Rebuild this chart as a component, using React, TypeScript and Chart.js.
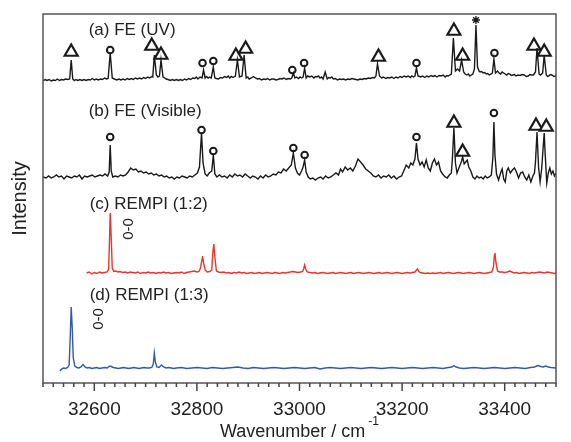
import React, { useEffect, useRef } from 'react';
import { Chart, registerables } from 'chart.js';

Chart.register(...registerables);

// ---------- axis ----------
const X_MIN = 32500;
const X_MAX = 33500;
const X_STEP = 20;
const xTickLabels = [32600, 32800, 33000, 33200, 33400];
const xMajorStep = 200;
const Y_MIN = 0;
const Y_MAX = 369;

// ---------- spectra: [wavenumber, intensity above own baseline] ----------
const traceA: [number, number][] = [
  [32500, -2], [32504, -0.5], [32508, -1.5], [32512, -0.5], [32516, -2], [32520, -1], [32524, -1.5], [32528, 0],
  [32532, -1.5], [32536, -0.5], [32540, -1], [32544, 0], [32548, -0.5], [32552, 0],
  [32555, 19], [32558, 0], [32561, -1.5], [32564, -0.5], [32568, -1.5], [32572, -0.5], [32576, -1.5], [32580, -0.5],
  [32584, -1.5], [32588, -0.5], [32592, -1], [32596, 0.5], [32600, -1], [32604, 0], [32608, -1],
  [32612, 0], [32616, -0.5], [32620, 1], [32624, 0], [32627, 0.5], [32631, 26], [32635, 1], [32639, 0], [32644, -1],
  [32648, 0], [32652, -1], [32656, 0], [32660, -1], [32664, 0.5],
  [32668, -0.5], [32672, 0.5], [32676, -0.5], [32680, 1], [32684, 0], [32688, 1], [32692, 0], [32696, 1.5],
  [32700, 0.5], [32704, 2], [32708, 1], [32712, 2.5], [32714, 2], [32717, 24],
  [32721, 4], [32724, 2], [32727, 3], [32730, 19], [32734, 2], [32737, 1], [32740, 0], [32744, -0.5], [32748, -1.5],
  [32752, -0.5], [32756, -1.5], [32760, -0.5], [32764, -1.5],
  [32768, -0.5], [32772, -1.5], [32776, 0], [32780, -1], [32784, 0.5], [32788, -0.5], [32792, 1], [32796, 0.5],
  [32799, 2], [32802, 0], [32806, 2], [32810, 1], [32813, 9],
  [32816, 1], [32819, 2.5], [32822, 1], [32825, 2], [32828, 1], [32832, 12], [32835, 1], [32838, 0.5], [32842, 0],
  [32846, 1.5], [32850, 1], [32854, 2.5], [32858, 1.5],
  [32861, 3], [32864, 1], [32867, 2.5], [32870, 1.5], [32875, 3], [32879, 19], [32883, 2], [32888, 3], [32892, 24], [32896, 1],
  [32899, 2], [32902, 0], [32906, 1], [32910, 2.5], [32914, 1], [32918, 0], [32922, 0.5], [32926, -1], [32930, 0],
  [32934, -0.5], [32938, 0.5], [32942, -1], [32946, 0], [32950, 0], [32954, -1], [32958, -0.5],
  [32962, 0.5], [32966, 0], [32970, 1], [32974, -0.5], [32978, 0.5], [32982, 0], [32985, 1], [32988, 6], [32991, 1],
  [32994, 2], [32998, 0.5], [33001, 2], [33004, 1],
  [33007, 2], [33010, 11], [33013, 1], [33016, 3], [33020, 2], [33024, 3], [33028, 1], [33031, 2.5], [33034, 2],
  [33037, 3], [33040, 1], [33043, 2], [33046, 0],
  [33050, 7], [33054, 0], [33057, 1.5], [33060, 1], [33063, 2], [33066, 0], [33070, 0.5], [33074, -1], [33078, 0],
  [33082, -0.5], [33086, 0], [33090, -1], [33094, 0], [33098, -0.5],
  [33102, 0.5], [33106, 0], [33110, -0.5], [33114, -1], [33118, 0], [33122, -0.5], [33126, 0.5], [33130, 0],
  [33134, 1], [33138, 0.5], [33142, 1.5], [33146, 1], [33149, 3], [33152, 15],
  [33156, 3], [33160, 1], [33164, 2], [33168, 0.5], [33172, 1.5], [33176, 1], [33180, 2], [33184, 0.5], [33188, 2],
  [33192, 1], [33196, 2.5], [33200, 1.5], [33204, 3], [33208, 2],
  [33212, 3], [33216, 1.5], [33219, 3], [33222, 2], [33225, 3], [33228, 11], [33231, 3], [33234, 2.5], [33236, 2],
  [33240, 3], [33244, 1.5], [33248, 3], [33252, 2],
  [33256, 3.5], [33260, 2.5], [33264, 3.5], [33268, 2], [33272, 3.5], [33276, 3], [33280, 4], [33284, 2],
  [33287, 3.5], [33290, 3], [33296, 5], [33300, 41], [33304, 8],
  [33308, 10], [33312, 8], [33316, 19], [33320, 7], [33323, 5], [33326, 4], [33329, 5], [33332, 3], [33335, 4],
  [33338, 5], [33341, 10],
  [33344, 54], [33347, 12], [33350, 8], [33352, 7], [33355, 7.5], [33358, 6], [33361, 6.5], [33364, 5], [33367, 5.5],
  [33370, 4], [33374, 5], [33376, 6],
  [33379, 20], [33382, 6], [33386, 8], [33389, 6], [33392, 5], [33395, 7], [33398, 6], [33401, 5], [33404, 4],
  [33407, 5.5], [33410, 5], [33413, 3.5], [33416, 4],
  [33419, 4.5], [33422, 3], [33426, 4], [33430, 3.5], [33434, 4.5], [33438, 4], [33442, 2.5], [33446, 3], [33449, 4.5],
  [33452, 4], [33456, 4], [33460, 7], [33463, 31],
  [33467, 5], [33470, 4], [33474, 6], [33477, 24], [33481, 4], [33484, 2.5], [33486, 3], [33489, 4.5], [33492, 4],
  [33496, 2.5], [33500, 3],
];

const traceB: [number, number][] = [
  [32500, 0], [32506, -1], [32511, 1], [32516, -1], [32521, 0], [32526, 2], [32531, 0], [32536, 1],
  [32541, -2], [32546, 1], [32551, 0], [32556, -1], [32561, 1], [32566, 0], [32571, 2], [32576, -2],
  [32581, 1], [32586, 0], [32591, 1], [32596, 2], [32601, 0], [32606, 1], [32611, 2], [32616, 1],
  [32621, 3], [32626, 1], [32629, 5], [32631, 32], [32633, 6], [32636, 0], [32641, 1], [32646, 0],
  [32651, 2], [32656, 1], [32661, 2], [32666, 5], [32671, 9], [32676, 7], [32681, 8], [32686, 5],
  [32691, 6], [32696, 4], [32701, 5], [32706, 3], [32711, 4], [32716, 2], [32721, 3], [32726, 1],
  [32731, 2], [32736, 0], [32741, 1], [32746, -1], [32751, 0], [32756, -2], [32761, 0], [32766, -1],
  [32771, 1], [32776, 0], [32781, -1], [32786, 1], [32791, 0], [32796, 2], [32801, 4], [32805, 10],
  [32809, 44], [32812, 14], [32816, 3], [32820, 1], [32824, 4], [32829, 6], [32832, 22], [32835, 3],
  [32839, 0], [32844, 2], [32849, 0], [32854, 1], [32859, -1], [32864, 2], [32869, 0], [32874, 3],
  [32879, 1], [32884, 2], [32889, 0], [32894, 3], [32899, 1], [32904, -1], [32909, 1], [32914, 0],
  [32919, -2], [32924, 1], [32929, -1], [32934, 2], [32939, 0], [32944, 1], [32949, 3], [32954, 2],
  [32959, 5], [32964, 4], [32969, 8], [32974, 6], [32979, 9], [32984, 12], [32988, 24], [32992, 9],
  [32996, 4], [33000, 2], [33004, 6], [33007, 10], [33010, 17], [33013, 5], [33017, 0], [33021, -2],
  [33026, -1], [33031, -3], [33036, -1], [33041, 0], [33046, -2], [33051, 1], [33056, -1], [33061, 0],
  [33066, 2], [33071, 4], [33076, 2], [33080, 8], [33084, 5], [33089, 10], [33094, 7], [33099, 9],
  [33104, 6], [33109, 11], [33114, 18], [33119, 15], [33124, 12], [33129, 8], [33134, 6], [33139, 4],
  [33144, 1], [33149, 0], [33154, 2], [33159, -1], [33164, 1], [33169, 0], [33174, 2], [33179, -1],
  [33184, 1], [33189, -2], [33194, 0], [33199, 1], [33204, 7], [33208, 12], [33213, 9], [33217, 14],
  [33221, 12], [33225, 18], [33228, 34], [33231, 18], [33235, 12], [33239, 15], [33243, 10], [33247, 17],
  [33251, 9], [33255, 6], [33259, 14], [33263, 18], [33267, 12], [33271, 15], [33275, 6], [33279, 3],
  [33284, 0], [33288, -1], [33292, 2], [33296, 4], [33298, 18], [33301, 49], [33304, 14], [33307, 4],
  [33310, 8], [33313, 12], [33316, 16], [33318, 20], [33321, 13], [33324, 15], [33327, 17], [33330, 10],
  [33334, 6], [33338, 0], [33342, -2], [33346, 1], [33350, -1], [33354, 0], [33358, -2], [33362, 1],
  [33366, -1], [33370, 0], [33374, 2], [33377, 20], [33379, 55], [33381, 22], [33384, 3], [33388, -3],
  [33392, 4], [33395, 8], [33398, -2], [33401, -5], [33404, 6], [33407, 9], [33411, 4], [33415, 7],
  [33419, 9], [33423, 5], [33427, -1], [33431, 4], [33435, 5], [33439, 0], [33443, -3], [33447, 2],
  [33451, -5], [33455, 1], [33458, 4], [33460, 15], [33463, 45], [33466, 10], [33469, -5], [33472, 8],
  [33475, 30], [33477, 44], [33479, 22], [33482, -6], [33485, 4], [33488, 9], [33491, 3], [33494, 6],
  [33497, 1], [33500, 4],
];

const traceC: [number, number][] = [
  [32585, 0], [32590, 1], [32595, -1], [32600, 0.5], [32605, -0.5], [32610, 1], [32615, 0], [32620, 0.5],
  [32625, 1], [32628, 4], [32630, 40], [32631, 60], [32633, 35], [32635, 5], [32638, 1.5], [32642, 2],
  [32646, 1], [32650, 1.5], [32655, 0.5], [32660, 1], [32665, 0], [32670, 1], [32675, 0.5], [32680, 0],
  [32685, 1], [32690, -0.5], [32695, 0.5], [32700, 0], [32705, 1], [32710, 0], [32715, 0.5], [32720, -0.5],
  [32725, 0.5], [32730, 0], [32735, 1], [32740, 0], [32745, 0.5], [32750, -0.5], [32755, 0], [32760, 0.5],
  [32765, 0], [32770, 1], [32775, -0.5], [32780, 0.5], [32785, 1], [32790, 1.5], [32795, 2], [32800, 1],
  [32804, 1.5], [32807, 5], [32810, 14], [32811, 17], [32813, 10], [32816, 3], [32820, 1], [32825, 1.5],
  [32829, 3], [32831, 20], [32833, 29], [32835, 16], [32838, 2], [32842, 1], [32847, 0.5], [32852, 1],
  [32857, 0], [32862, 0.5], [32867, -0.5], [32872, 0.5], [32877, 0], [32882, 1], [32887, 0], [32892, 0.5],
  [32897, -0.5], [32902, 0], [32907, 0.5], [32912, -0.5], [32917, 0], [32922, 0.5], [32927, -0.5], [32932, 0],
  [32937, 0.5], [32942, 0], [32947, -0.5], [32952, 0.5], [32957, 0], [32962, -0.5], [32967, 0.5], [32972, 0],
  [32977, 0.5], [32982, 1], [32987, 1.5], [32992, 1], [32997, 0.5], [33002, 1], [33006, 1.5], [33008, 4],
  [33010, 8], [33012, 4], [33015, 1], [33020, 0.5], [33025, 0], [33030, 0.5], [33035, -0.5], [33040, 0],
  [33045, 0.5], [33050, 0], [33055, -0.5], [33060, 0], [33065, 0.5], [33070, -0.5], [33075, 0], [33080, 0.5],
  [33085, 0], [33090, -0.5], [33095, 0], [33100, 0.5], [33105, -0.5], [33110, 0], [33115, 0.5], [33120, 0],
  [33125, -0.5], [33130, 0], [33135, 0.5], [33140, 0], [33145, -0.5], [33150, 0], [33155, 0.5], [33160, -0.5],
  [33165, 0], [33170, 0.5], [33175, 0], [33180, -0.5], [33185, 0], [33190, 0.5], [33195, 0], [33200, -0.5],
  [33205, 0], [33210, 0.5], [33215, 0], [33220, 0.5], [33225, 1], [33228, 3], [33230, 4], [33232, 2],
  [33235, 0.5], [33240, 0], [33245, -0.5], [33250, 0], [33255, -0.5], [33260, 0], [33265, -0.5], [33270, 0],
  [33275, 0.5], [33280, -0.5], [33285, 0], [33290, 0.5], [33295, 0], [33300, -0.5], [33305, 0], [33310, 0.5],
  [33315, 0], [33320, -0.5], [33325, 0], [33330, 0.5], [33335, 0], [33340, -0.5], [33345, 0], [33350, 0.5],
  [33355, 0], [33360, -0.5], [33365, 0], [33370, 0.5], [33375, 1], [33378, 6], [33380, 18], [33381, 20],
  [33383, 10], [33386, 2], [33390, 1], [33395, 1], [33400, 0.5], [33405, 1], [33410, 2], [33414, 1],
  [33418, 0], [33423, 0.5], [33428, -0.5], [33433, 0], [33438, 0.5], [33443, 0], [33448, -0.5], [33453, 0.5],
  [33458, 0], [33463, 0.5], [33468, 1], [33473, 0.5], [33478, 0], [33483, 1], [33488, 0.5], [33493, 0],
  [33497, -0.5], [33500, 0.5],
];

const traceD: [number, number][] = [
  [32533, -3], [32536, -1], [32540, 0], [32544, -0.5], [32548, 0.5], [32551, 3], [32553, 30], [32555, 61],
  [32557, 40], [32559, 10], [32562, 2], [32566, 0.5], [32570, 0], [32574, 1], [32578, 3.5], [32582, 1],
  [32586, 0], [32590, 0.5], [32595, -0.5], [32600, 0], [32605, 0.5], [32610, -0.5], [32615, 0], [32620, 0.5],
  [32625, 0], [32630, 2], [32633, 1.5], [32637, 0.5], [32642, 0], [32647, -0.5], [32652, 0], [32657, 0.5],
  [32662, 0], [32667, -0.5], [32672, 0], [32677, 0.5], [32682, 0], [32687, -0.5], [32692, 0], [32697, 0.5],
  [32702, 0], [32707, 0], [32712, 0.5], [32715, 4], [32717, 15], [32719, 6], [32722, 1], [32726, 0.5],
  [32731, 3], [32735, 1], [32740, 0], [32745, 0.5], [32750, 0], [32755, -0.5], [32760, 0], [32770, 0.5],
  [32780, -0.5], [32790, 0], [32800, 0.5], [32810, 0], [32820, -0.5], [32830, 0.5], [32840, 0], [32850, -0.5],
  [32860, 0], [32870, 0.5], [32880, 1], [32890, 0], [32900, -0.5], [32910, 0.5], [32920, 0], [32930, -0.5],
  [32940, 0], [32950, 0.5], [32960, 0], [32970, -0.5], [32980, 0], [32990, 0.5], [33000, 0], [33010, -0.5],
  [33020, 0], [33030, 0.5], [33040, -1], [33050, 0], [33060, 0.5], [33070, 0], [33080, -0.5], [33090, 0],
  [33100, 0.5], [33110, 0], [33120, -0.5], [33130, 0], [33140, 0.5], [33150, 0], [33160, -0.5], [33170, 0],
  [33180, 0.5], [33190, 0], [33200, -0.5], [33210, 0], [33220, 0.5], [33230, 0], [33240, -0.5], [33250, 0],
  [33260, 0.5], [33270, 0], [33280, -0.5], [33290, 0.5], [33297, 1], [33301, 2.5], [33305, 1], [33312, 0],
  [33320, -0.5], [33330, 0], [33340, 0.5], [33350, 0], [33360, -0.5], [33370, 0], [33380, 0.5], [33390, 0],
  [33400, -0.5], [33410, 0], [33420, 0.5], [33430, 0], [33440, -0.5], [33450, 0.5], [33458, 1], [33465, 2.5],
  [33470, 1.5], [33475, 1], [33480, 2], [33485, 1], [33490, 0.5], [33500, 0],
];

// ---------- assignment marks: [wavenumber, height above own baseline] ----------
const triA: [number, number][] = [
  [32555, 27], [32712, 33], [32730, 24], [32876, 23], [32895, 30], [33154, 22],
  [33301, 48], [33318, 23], [33457, 33], [33477, 27],
];
const circA: [number, number][] = [
  [32631, 29], [32811, 16], [32832, 18], [32986, 9], [33009, 16], [33228, 16], [33380, 26],
];
const starA: [number, number][] = [[33344, 59]];
const triB: [number, number][] = [[33301, 54], [33318, 25], [33461, 51], [33481, 50]];
const circB: [number, number][] = [
  [32631, 40], [32809, 47], [32832, 26], [32988, 29], [33010, 22], [33228, 40], [33379, 64],
];

// ---------- texts ----------
const traceNames = ['(a) FE (UV)', '(b) FE (Visible)', '(c) REMPI (1:2)', '(d) REMPI (1:3)'];
const originLabel = '0-0';
const xTitle = 'Wavenumber / cm';
const xTitleSup = '-1';
const yTitle = 'Intensity';

// ---------- layout (vertical stacking offsets, label anchors) ----------
const OFFSET_A = 304;
const OFFSET_B = 206;
const OFFSET_C = 110;
const OFFSET_D = 15;
const nameAnchors: [number, number][] = [[32589, 352.5], [32589, 271.5], [32591, 179], [32591, 88]];
const originAnchors: [number, number][] = [[32668, 154], [32608, 64]];

const FONT = '"Liberation Sans", Arial, Helvetica, sans-serif';
const TEXT = '#222222';
const BLACK = '#1a1a1a';
const RED = '#e8352f';
const BLUE = '#3559a8';

const toPts = (arr: [number, number][], off: number) => arr.map(([x, v]) => ({ x, y: v + off }));

const annotPlugin = {
  id: 'annot',
  afterDraw(chart: any) {
    const { ctx, chartArea: ca, scales } = chart;
    const xs = scales.x;
    const ys = scales.y;
    ctx.save();
    ctx.strokeStyle = '#555555';
    ctx.lineWidth = 1.5;
    ctx.strokeRect(ca.left, ca.top, ca.right - ca.left, ca.bottom - ca.top);
    ctx.strokeStyle = '#444444';
    ctx.lineWidth = 1.5;
    xs.ticks.forEach((t: any) => {
      const px = xs.getPixelForValue(t.value);
      const major = t.value % xMajorStep === 0;
      ctx.beginPath();
      ctx.moveTo(px, ca.bottom);
      ctx.lineTo(px, ca.bottom + (major ? 8 : 4));
      ctx.stroke();
    });
    ctx.fillStyle = TEXT;
    ctx.font = `17px ${FONT}`;
    ctx.textAlign = 'left';
    ctx.textBaseline = 'middle';
    traceNames.forEach((n, i) => {
      const [wx, wy] = nameAnchors[i];
      ctx.fillText(n, xs.getPixelForValue(wx), ys.getPixelForValue(wy));
    });
    ctx.font = `15px ${FONT}`;
    ctx.textAlign = 'center';
    originAnchors.forEach(([wx, wy]) => {
      ctx.save();
      ctx.translate(xs.getPixelForValue(wx), ys.getPixelForValue(wy));
      ctx.rotate(-Math.PI / 2);
      ctx.fillText(originLabel, 0, 0);
      ctx.restore();
    });
    ctx.font = `18px ${FONT}`;
    const w1 = ctx.measureText(xTitle).width;
    ctx.font = `12px ${FONT}`;
    const w2 = ctx.measureText(xTitleSup).width;
    const cx = (ca.left + ca.right) / 2;
    const startX = cx - (w1 + 3 + w2) / 2;
    ctx.textAlign = 'left';
    ctx.textBaseline = 'alphabetic';
    ctx.font = `18px ${FONT}`;
    ctx.fillText(xTitle, startX, ca.bottom + 54);
    ctx.font = `12px ${FONT}`;
    ctx.fillText(xTitleSup, startX + w1 + 3, ca.bottom + 42);
    ctx.restore();
  },
};

export default function App() {
  const ref = useRef<HTMLCanvasElement | null>(null);
  useEffect(() => {
    if (!ref.current) return;
    const line = (data: any, color: string, w: number) => ({
      type: 'line' as const,
      data,
      borderColor: color,
      borderWidth: w,
      pointRadius: 0,
      tension: 0,
      fill: false,
    });
    const marks = (data: any, style: string, r: number, bw: number) => ({
      type: 'scatter' as const,
      data,
      pointStyle: style,
      pointRadius: r,
      borderColor: BLACK,
      backgroundColor: '#ffffff',
      pointBorderWidth: bw,
      borderWidth: bw,
      clip: false,
    });
    const chart = new Chart(ref.current, {
      type: 'line',
      data: {
        datasets: [
          line(toPts(traceA, OFFSET_A), BLACK, 1.4),
          line(toPts(traceB, OFFSET_B), BLACK, 1.4),
          line(toPts(traceC, OFFSET_C), RED, 1.4),
          line(toPts(traceD, OFFSET_D), BLUE, 1.4),
          marks(toPts(triA, OFFSET_A), 'triangle', 7.5, 2.2),
          marks(toPts(triB, OFFSET_B), 'triangle', 7.5, 2.2),
          marks(toPts(circA, OFFSET_A), 'circle', 3.3, 2),
          marks(toPts(circB, OFFSET_B), 'circle', 3.3, 2),
          marks(toPts(starA, OFFSET_A), 'star', 4, 1.3),
        ] as any,
      },
      options: {
        responsive: false,
        animation: false,
        devicePixelRatio: 1,
        layout: { padding: { top: 14, right: 2, left: 0, bottom: 0 } },
        plugins: { legend: { display: false }, tooltip: { enabled: false } },
        scales: {
          x: {
            type: 'linear',
            min: X_MIN,
            max: X_MAX,
            grid: { display: false, drawTicks: false },
            border: { display: false },
            ticks: {
              stepSize: X_STEP,
              autoSkip: false,
              maxRotation: 0,
              padding: 15,
              color: TEXT,
              font: { family: FONT, size: 19 },
              callback: (v: any) => (xTickLabels.includes(Number(v)) ? String(v) : ''),
            },
            afterFit: (s: any) => { s.height = 59; },
          },
          y: {
            type: 'linear',
            min: Y_MIN,
            max: Y_MAX,
            grid: { display: false, drawTicks: false },
            border: { display: false },
            ticks: { display: false },
            title: {
              display: true,
              text: yTitle,
              color: TEXT,
              font: { family: FONT, size: 20 },
              padding: { top: 8, bottom: 0 },
            },
            afterFit: (s: any) => { s.width = 43; },
          },
        },
      },
      plugins: [annotPlugin],
    } as any);
    return () => chart.destroy();
  }, []);
  return (
    <div style={{ position: 'absolute', left: 0, top: 0, width: 571, height: 442 }}>
      <canvas ref={ref} width={571} height={442} style={{ display: 'block' }} />
    </div>
  );
}
